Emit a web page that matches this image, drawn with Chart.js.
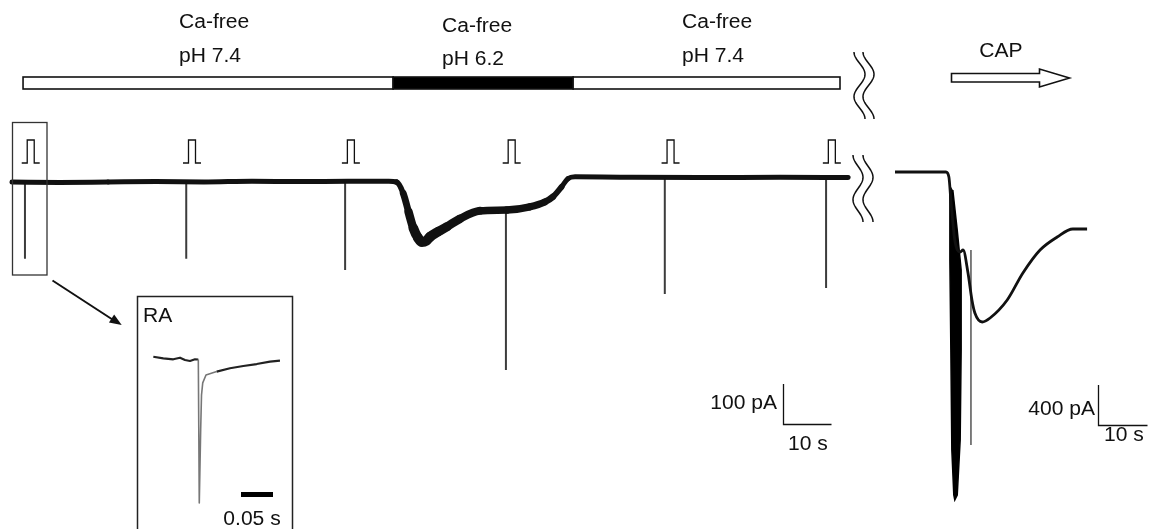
<!DOCTYPE html>
<html>
<head>
<meta charset="utf-8">
<script src="https://cdn.jsdelivr.net/npm/chart.js@4.4.1/dist/chart.umd.min.js"></script>
<style>
  html, body { margin: 0; padding: 0; background: #fff; }
  #wrap { position: relative; width: 1149px; height: 529px; }
</style>
</head>
<body>
<div id="wrap"><canvas id="trace"></canvas></div>
<script>
// bath solutions (s)
const solutionLabels = [['Ca-free', 'pH 7.4'], ['Ca-free', 'pH 6.2'], ['Ca-free', 'pH 7.4']];
const solutionStart = [2.3, 79.4, 116.9];
const solutionEnd = [79.4, 116.9, 172.5];
const solutionPH = [7.4, 6.2, 7.4];

// whole-cell current, time in s, current in pA
const traceTime = [0, 10, 20, 30, 40, 50, 60, 70, 78.5, 80.1, 81.5, 82.6, 83.6, 84.6, 85.4, 86.3,
    87.1, 88.8, 90.6, 93.3, 97.5, 103.1, 107.9, 111.0, 112.7, 114.5, 115.8, 117.3, 126.7, 143.3, 160, 174.2];
const traceCurrent = [0, -1, 0, 1, 0, 2, 1, 2, 2, 0, -28, -74, -115, -140, -150, -147,
    -137, -124, -112, -92, -72, -70, -62, -50, -37, -12, 8, 13, 12, 11, 12, 11];

// RA (mechanical) stimuli and the evoked transient currents
const stimTime = [2.7, 36.3, 69.4, 102.9, 136.0, 169.6];
const stimFrom = [0, 0, 1, -70, 11, 11];
const stimPeak = [-192, -192, -220, -470, -280, -265];

// capsaicin response (s, pA)
const capTime = [0, 10.4, 11.0, 11.4, 12.2, 13.3, 13.9, 14.9, 15.7, 16.3, 17.8, 19.4, 22.9, 26.1, 29.6, 33.1, 36.3, 39.2];
const capCurrent = [0, 0, -50, -280, -680, -800, -780, -1010, -1280, -1410, -1500, -1460, -1280, -1010, -780, -650, -570, -570];
// outline of the fast burst at CAP onset
const capBurstTime = [11.2, 11.2, 11.4, 11.6, 12.0, 12.2, 12.7, 13.3, 13.5, 13.5, 12.7, 11.8];
const capBurstCurrent = [-130, -880, -1780, -2780, -3230, -3280, -3230, -2680, -1780, -980, -580, -180];
const capSpikeTime = [15.5];
const capSpikeFrom = [-780];
const capSpikePeak = [-2730];

// inset: first RA response, time in ms
const insetTime = [0.5, 16.1, 31.7, 42.2, 50, 57.8, 65.6, 70.8, 72.3, 74.5, 75.8, 77.7, 82.8, 99.5, 120.3, 141.1, 162, 182.8, 198.4];
const insetCurrent = [1.7, -0.4, -1.7, 0.4, -2.6, -4.0, -1.7, -2, -192, -95, -49, -33, -22.5, -18, -13.6, -10.6, -8, -4.9, -3.6];

// scale bars
const mainBarCurrent = 100, mainBarTime = 10;
const capBarCurrent = 400, capBarTime = 10;
const insetBarTime = 50;

const W = 1149, H = 529;
// axis ranges so that value 0 sits at a given pixel with k pixels per unit
function xRange(px0, k) { return {min: -px0 / k, max: (W - px0) / k}; }
function yRange(py0, k) { return {min: (py0 - H) / k, max: py0 / k}; }

const zip = (xs, ys) => xs.map((x, i) => ({x, y: ys[i]}));
function spikes(ts, from, peak) {
    const pts = [];
    ts.forEach((t, i) => {
        pts.push({x: t, y: from[i]}, {x: t, y: peak[i]}, {x: t, y: null});
    });
    return pts;
}

const INK = '#111';
const FONT = '19.5px "Liberation Sans", Arial, sans-serif';

function label(ctx, str, x, y, align) {
    ctx.save();
    ctx.translate(x, y);
    ctx.scale(1.08, 1);
    ctx.textAlign = align;
    ctx.textBaseline = 'alphabetic';
    ctx.fillText(str, 0, 0);
    ctx.restore();
}

function wave(ctx, x0, yTop, yBot, amp) {
    const h = (yBot - yTop) / 3;
    ctx.beginPath();
    for (let y = yTop; y <= yBot; y += 1) {
        const x = x0 + amp / 2 - amp / 2 * Math.cos(Math.PI * (y - yTop) / h);
        if (y === yTop) ctx.moveTo(x, y); else ctx.lineTo(x, y);
    }
    ctx.stroke();
}

function pulseIcon(ctx, cx, base, top) {
    ctx.beginPath();
    ctx.moveTo(cx - 9, base);
    ctx.lineTo(cx - 3.5, base);
    ctx.lineTo(cx - 3.5, top);
    ctx.lineTo(cx + 3.5, top);
    ctx.lineTo(cx + 3.5, base);
    ctx.lineTo(cx + 9, base);
    ctx.stroke();
}

const LABEL_LEFT = [179, 442, 682];
const LABEL_BASE = [[28, 62], [32, 65], [28, 62]];

const decor = {
    id: 'decor',
    afterDatasetsDraw(chart) {
        const {ctx} = chart;
        const sx = chart.scales.x, sy = chart.scales.y;
        const cx = chart.scales.xCap, cy = chart.scales.yCap;
        const ix = chart.scales.xIn;
        ctx.save();
        ctx.font = FONT;
        ctx.strokeStyle = INK;
        ctx.fillStyle = INK;

        // solution bar + labels
        solutionStart.forEach((t0, i) => {
            const a = sx.getPixelForValue(t0), b = sx.getPixelForValue(solutionEnd[i]);
            ctx.fillStyle = solutionPH[i] < 7 ? '#000' : '#fff';
            ctx.fillRect(a, 77, b - a, 12);
            ctx.lineWidth = 1.6;
            ctx.strokeRect(a, 77, b - a, 12);
            ctx.fillStyle = INK;
            label(ctx, solutionLabels[i][0], LABEL_LEFT[i], LABEL_BASE[i][0], 'left');
            label(ctx, solutionLabels[i][1], LABEL_LEFT[i], LABEL_BASE[i][1], 'left');
        });

        // stimulus pulses
        ctx.lineWidth = 1.3;
        stimTime.forEach(t => pulseIcon(ctx, sx.getPixelForValue(t + 1.2), 163, 140));

        // break marks
        ctx.lineWidth = 1.5;
        wave(ctx, 854, 52, 119, 11);
        wave(ctx, 863, 52, 119, 11);
        wave(ctx, 853, 155, 222, 10);
        wave(ctx, 863, 155, 222, 10);

        // CAP arrow
        ctx.fillStyle = '#fff';
        ctx.lineWidth = 1.6;
        ctx.beginPath();
        ctx.moveTo(951.5, 73.5);
        ctx.lineTo(1039.5, 73.5);
        ctx.lineTo(1039.5, 69);
        ctx.lineTo(1069.5, 78);
        ctx.lineTo(1039.5, 87);
        ctx.lineTo(1039.5, 82);
        ctx.lineTo(951.5, 82);
        ctx.closePath();
        ctx.fill();
        ctx.stroke();
        ctx.fillStyle = INK;
        label(ctx, 'CAP', 1001, 57, 'center');

        // selection box around first response and pointer to inset
        ctx.lineWidth = 1.3;
        ctx.strokeStyle = '#333';
        ctx.strokeRect(12.5, 122.5, 34.5, 152.5);
        ctx.strokeStyle = INK;
        ctx.lineWidth = 2;
        ctx.beginPath();
        ctx.moveTo(52.5, 280.5);
        ctx.lineTo(114, 320.5);
        ctx.stroke();
        ctx.beginPath();
        const ang = Math.atan2(325 - 280.5, 121.7 - 52.5);
        ctx.moveTo(121.7, 325);
        ctx.lineTo(121.7 - 13 * Math.cos(ang - 0.38), 325 - 13 * Math.sin(ang - 0.38));
        ctx.lineTo(121.7 - 13 * Math.cos(ang + 0.38), 325 - 13 * Math.sin(ang + 0.38));
        ctx.closePath();
        ctx.fill();

        // inset frame
        ctx.lineWidth = 1.5;
        ctx.strokeStyle = '#222';
        ctx.strokeRect(137.5, 296.5, 155, 250);
        label(ctx, 'RA', 143, 322, 'left');

        // inset time bar
        const ib = ix.getPixelForValue(insetBarTime) - ix.getPixelForValue(0);
        ctx.fillStyle = '#000';
        ctx.fillRect(241, 492, ib, 5);
        ctx.fillStyle = INK;
        label(ctx, '0.05 s', 252, 525, 'center');

        // main scale bar
        ctx.strokeStyle = INK;
        ctx.lineWidth = 1.3;
        const mh = sy.getPixelForValue(0) - sy.getPixelForValue(mainBarCurrent);
        const mw = sx.getPixelForValue(mainBarTime) - sx.getPixelForValue(0);
        ctx.beginPath();
        ctx.moveTo(783.5, 424 - mh);
        ctx.lineTo(783.5, 424.5);
        ctx.lineTo(783.5 + mw, 424.5);
        ctx.stroke();
        label(ctx, mainBarCurrent + ' pA', 777, 409, 'right');
        label(ctx, mainBarTime + ' s', 808, 450, 'center');

        // CAP scale bar
        const ch = cy.getPixelForValue(0) - cy.getPixelForValue(capBarCurrent);
        const cw = cx.getPixelForValue(capBarTime) - cx.getPixelForValue(0);
        ctx.beginPath();
        ctx.moveTo(1098.5, 425 - ch);
        ctx.lineTo(1098.5, 425.5);
        ctx.lineTo(1098.5 + cw, 425.5);
        ctx.stroke();
        label(ctx, capBarCurrent + ' pA', 1095, 415, 'right');
        label(ctx, capBarTime + ' s', 1124, 441, 'center');

        ctx.restore();
    }
};

const hidden = {type: 'linear', display: false};

new Chart(document.getElementById('trace'), {
    type: 'line',
    data: {
        datasets: [
            {
                label: 'baseline current',
                data: zip(traceTime, traceCurrent),
                xAxisID: 'x', yAxisID: 'y',
                borderColor: INK,
                borderWidth: 5,
                borderCapStyle: 'round',
                borderJoinStyle: 'round',
                cubicInterpolationMode: 'monotone',
                segment: {
                    borderWidth: c => 5 + Math.min(5, Math.max(0, -(c.p0.parsed.y + c.p1.parsed.y) / 55))
                }
            },
            {
                label: 'RA responses',
                data: spikes(stimTime, stimFrom, stimPeak),
                xAxisID: 'x', yAxisID: 'y',
                borderColor: '#3c3c3c',
                borderWidth: 2,
                spanGaps: false
            },
            {
                label: 'CAP',
                data: zip(capTime, capCurrent),
                xAxisID: 'xCap', yAxisID: 'yCap',
                borderColor: INK,
                borderWidth: 2.8,
                borderJoinStyle: 'round',
                cubicInterpolationMode: 'monotone'
            },
            {
                label: 'CAP burst',
                data: zip(capBurstTime, capBurstCurrent),
                xAxisID: 'xCap', yAxisID: 'yCap',
                borderColor: '#000',
                backgroundColor: '#000',
                borderWidth: 1.5,
                fill: 'shape'
            },
            {
                label: 'CAP spike',
                data: spikes(capSpikeTime, capSpikeFrom, capSpikePeak),
                xAxisID: 'xCap', yAxisID: 'yCap',
                borderColor: '#555',
                borderWidth: 1.5,
                spanGaps: false
            },
            {
                label: 'RA inset',
                data: zip(insetTime, insetCurrent),
                xAxisID: 'xIn', yAxisID: 'yIn',
                borderColor: '#222',
                borderWidth: 2.2,
                borderJoinStyle: 'round',
                segment: {
                    borderColor: c => (c.p0.parsed.y < -20 || c.p1.parsed.y < -20) ? '#777' : '#222',
                    borderWidth: c => (c.p0.parsed.y < -20 || c.p1.parsed.y < -20) ? 1.6 : 2.2
                }
            }
        ]
    },
    options: {
        responsive: true,
        maintainAspectRatio: false,
        animation: false,
        layout: {padding: 0},
        elements: {point: {radius: 0, hoverRadius: 0}, line: {tension: 0}},
        datasets: {line: {clip: false}},
        plugins: {legend: {display: false}, tooltip: {enabled: false}, title: {display: false}},
        events: [],
        scales: {
            x: {...hidden, axis: 'x', ...xRange(12, 4.8)},
            y: {...hidden, axis: 'y', ...yRange(182, 0.4)},
            xCap: {...hidden, axis: 'x', ...xRange(895, 4.9)},
            yCap: {...hidden, axis: 'y', ...yRange(172, 0.1)},
            xIn: {...hidden, axis: 'x', ...xRange(153, 0.64)},
            yIn: {...hidden, axis: 'y', ...yRange(358, 0.755)}
        }
    },
    plugins: [decor]
});
</script>
</body>
</html>
